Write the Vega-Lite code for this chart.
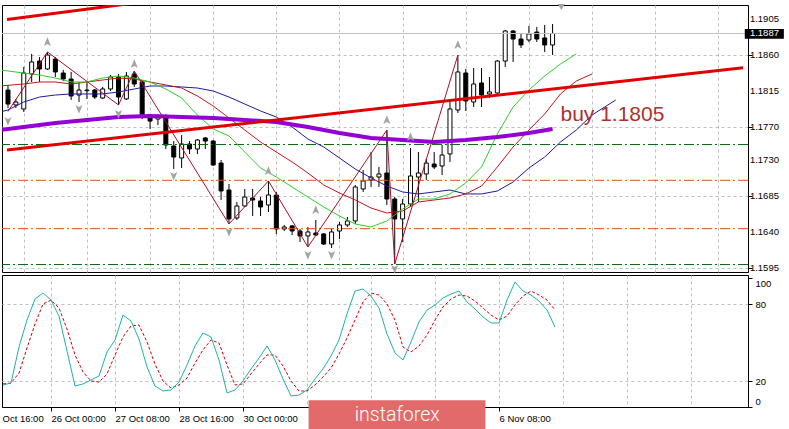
{
  "$schema": "https://vega.github.io/schema/vega-lite/v6.json",
  "padding": {"left": 0, "top": 3, "right": 0, "bottom": 0},
  "background": "#ffffff",
  "spacing": 3,
  "bounds": "flush",
  "config": {
    "view": {"stroke": "#000000", "strokeWidth": 1},
    "axis": {"labelFont": "Liberation Sans", "labelFontSize": 9.5, "labelColor": "#000000", "domainColor": "#000000", "tickColor": "#000000", "gridColor": "#c0c0c0", "gridDash": [3, 3], "gridWidth": 1, "title": null}
  },
  "datasets": {
    "candles": [
      {"i":0,"o":1.18166,"h":1.18229,"l":1.17942,"c":1.17992},
      {"i":1,"o":1.17980,"h":1.18055,"l":1.17942,"c":1.18017},
      {"i":2,"o":1.17930,"h":1.18453,"l":1.17893,"c":1.18378},
      {"i":3,"o":1.18366,"h":1.18615,"l":1.18266,"c":1.18515},
      {"i":4,"o":1.18527,"h":1.18577,"l":1.18266,"c":1.18428},
      {"i":5,"o":1.18428,"h":1.18640,"l":1.18416,"c":1.18602},
      {"i":6,"o":1.18552,"h":1.18577,"l":1.18328,"c":1.18391},
      {"i":7,"o":1.18378,"h":1.18416,"l":1.18278,"c":1.18303},
      {"i":8,"o":1.18303,"h":1.18391,"l":1.18042,"c":1.18092},
      {"i":9,"o":1.18104,"h":1.18266,"l":1.18017,"c":1.18166},
      {"i":10,"o":1.18158,"h":1.18266,"l":1.18055,"c":1.18166},
      {"i":11,"o":1.18166,"h":1.18179,"l":1.18055,"c":1.18079},
      {"i":12,"o":1.18067,"h":1.18204,"l":1.18055,"c":1.18179},
      {"i":13,"o":1.18179,"h":1.18353,"l":1.18154,"c":1.18328},
      {"i":14,"o":1.18328,"h":1.18366,"l":1.17980,"c":1.18079},
      {"i":15,"o":1.18055,"h":1.18391,"l":1.18042,"c":1.18341},
      {"i":16,"o":1.18366,"h":1.18403,"l":1.18204,"c":1.18241},
      {"i":17,"o":1.18266,"h":1.18291,"l":1.17805,"c":1.17843},
      {"i":18,"o":1.17855,"h":1.17868,"l":1.17681,"c":1.17780},
      {"i":19,"o":1.17805,"h":1.17868,"l":1.17731,"c":1.17843},
      {"i":20,"o":1.17843,"h":1.17868,"l":1.17432,"c":1.17482},
      {"i":21,"o":1.17469,"h":1.17531,"l":1.17183,"c":1.17332},
      {"i":22,"o":1.17320,"h":1.17606,"l":1.17195,"c":1.17494},
      {"i":23,"o":1.17494,"h":1.17531,"l":1.17370,"c":1.17432},
      {"i":24,"o":1.17432,"h":1.17556,"l":1.17370,"c":1.17544},
      {"i":25,"o":1.17569,"h":1.17581,"l":1.17432,"c":1.17531},
      {"i":26,"o":1.17531,"h":1.17544,"l":1.17220,"c":1.17233},
      {"i":27,"o":1.17257,"h":1.17295,"l":1.16797,"c":1.16909},
      {"i":28,"o":1.16921,"h":1.16996,"l":1.16498,"c":1.16561},
      {"i":29,"o":1.16573,"h":1.16772,"l":1.16548,"c":1.16722},
      {"i":30,"o":1.16722,"h":1.16934,"l":1.16710,"c":1.16834},
      {"i":31,"o":1.16822,"h":1.16934,"l":1.16598,"c":1.16797},
      {"i":32,"o":1.16785,"h":1.16834,"l":1.16598,"c":1.16710},
      {"i":33,"o":1.16735,"h":1.17034,"l":1.16648,"c":1.16859},
      {"i":34,"o":1.16859,"h":1.16897,"l":1.16374,"c":1.16436},
      {"i":35,"o":1.16436,"h":1.16486,"l":1.16411,"c":1.16461},
      {"i":36,"o":1.16474,"h":1.16486,"l":1.16361,"c":1.16411},
      {"i":37,"o":1.16411,"h":1.16436,"l":1.16274,"c":1.16349},
      {"i":38,"o":1.16349,"h":1.16461,"l":1.16212,"c":1.16399},
      {"i":39,"o":1.16386,"h":1.16548,"l":1.16349,"c":1.16361},
      {"i":40,"o":1.16374,"h":1.16386,"l":1.16237,"c":1.16249},
      {"i":41,"o":1.16249,"h":1.16436,"l":1.16199,"c":1.16399},
      {"i":42,"o":1.16411,"h":1.16523,"l":1.16311,"c":1.16486},
      {"i":43,"o":1.16486,"h":1.16585,"l":1.16461,"c":1.16536},
      {"i":44,"o":1.16536,"h":1.16984,"l":1.16498,"c":1.16959},
      {"i":45,"o":1.16934,"h":1.17170,"l":1.16897,"c":1.17034},
      {"i":46,"o":1.17046,"h":1.17394,"l":1.16959,"c":1.17083},
      {"i":47,"o":1.17083,"h":1.17208,"l":1.16959,"c":1.17121},
      {"i":48,"o":1.17133,"h":1.17668,"l":1.16735,"c":1.16809},
      {"i":49,"o":1.16809,"h":1.16834,"l":1.16000,"c":1.16561},
      {"i":50,"o":1.16561,"h":1.16809,"l":1.16274,"c":1.16747},
      {"i":51,"o":1.16747,"h":1.17444,"l":1.16710,"c":1.17096},
      {"i":52,"o":1.17083,"h":1.17394,"l":1.16772,"c":1.17133},
      {"i":53,"o":1.17121,"h":1.17307,"l":1.17046,"c":1.17257},
      {"i":54,"o":1.17245,"h":1.17394,"l":1.17183,"c":1.17208},
      {"i":55,"o":1.17220,"h":1.17482,"l":1.17108,"c":1.17357},
      {"i":56,"o":1.17370,"h":1.18017,"l":1.17270,"c":1.17930},
      {"i":57,"o":1.17917,"h":1.18602,"l":1.17880,"c":1.18391},
      {"i":58,"o":1.18378,"h":1.18428,"l":1.17905,"c":1.18030},
      {"i":59,"o":1.18017,"h":1.18440,"l":1.17955,"c":1.18241},
      {"i":60,"o":1.18254,"h":1.18440,"l":1.17955,"c":1.18104},
      {"i":61,"o":1.18117,"h":1.18328,"l":1.18067,"c":1.18142},
      {"i":62,"o":1.18129,"h":1.18540,"l":1.18117,"c":1.18527},
      {"i":63,"o":1.18527,"h":1.18913,"l":1.18453,"c":1.18901},
      {"i":64,"o":1.18901,"h":1.18913,"l":1.18515,"c":1.18801},
      {"i":65,"o":1.18801,"h":1.18864,"l":1.18689,"c":1.18727},
      {"i":66,"o":1.18789,"h":1.18963,"l":1.18764,"c":1.18864},
      {"i":67,"o":1.18888,"h":1.18951,"l":1.18764,"c":1.18801},
      {"i":68,"o":1.18814,"h":1.18976,"l":1.18640,"c":1.18727},
      {"i":69,"o":1.18727,"h":1.18988,"l":1.18602,"c":1.18870}
    ],
    "lips": [
      {"i":-1,"p":1.18416},{"i":0,"p":1.18403},{"i":2,"p":1.18378},{"i":4,"p":1.18353},{"i":6,"p":1.18316},{"i":8,"p":1.18266},{"i":10,"p":1.18266},{"i":12,"p":1.18316},{"i":14,"p":1.18341},{"i":16,"p":1.18316},{"i":18,"p":1.18266},{"i":20,"p":1.18179},{"i":22,"p":1.18067},{"i":24,"p":1.17855},{"i":26,"p":1.17681},{"i":28,"p":1.17594},{"i":30,"p":1.17394},{"i":32,"p":1.17195},{"i":34,"p":1.17083},{"i":36,"p":1.16959},{"i":38,"p":1.16834},{"i":40,"p":1.16710},{"i":42,"p":1.16598},{"i":44,"p":1.16498},{"i":46,"p":1.16461},{"i":48,"p":1.16536},{"i":50,"p":1.16685},{"i":52,"p":1.16809},{"i":54,"p":1.16809},{"i":56,"p":1.16872},{"i":58,"p":1.17009},{"i":60,"p":1.17208},{"i":62,"p":1.17619},{"i":64,"p":1.17955},{"i":66,"p":1.18166},{"i":68,"p":1.18341},{"i":70,"p":1.18490},{"i":72,"p":1.18615}
    ],
    "teeth": [
      {"i":-1,"p":1.18216},{"i":2,"p":1.18241},{"i":4,"p":1.18266},{"i":6,"p":1.18266},{"i":8,"p":1.18241},{"i":10,"p":1.18266},{"i":12,"p":1.18291},{"i":14,"p":1.18316},{"i":16,"p":1.18303},{"i":18,"p":1.18266},{"i":20,"p":1.18229},{"i":22,"p":1.18191},{"i":24,"p":1.18092},{"i":26,"p":1.17967},{"i":28,"p":1.17818},{"i":30,"p":1.17668},{"i":32,"p":1.17519},{"i":34,"p":1.17394},{"i":36,"p":1.17270},{"i":38,"p":1.17133},{"i":40,"p":1.16984},{"i":42,"p":1.16884},{"i":44,"p":1.16797},{"i":46,"p":1.16697},{"i":48,"p":1.16635},{"i":50,"p":1.16660},{"i":52,"p":1.16772},{"i":54,"p":1.16797},{"i":56,"p":1.16822},{"i":58,"p":1.16872},{"i":60,"p":1.16971},{"i":62,"p":1.17208},{"i":64,"p":1.17457},{"i":66,"p":1.17668},{"i":68,"p":1.17868},{"i":70,"p":1.18117},{"i":72,"p":1.18278},{"i":74,"p":1.18366}
    ],
    "jaw": [
      {"i":-1,"p":1.17893},{"i":0,"p":1.17917},{"i":2,"p":1.18017},{"i":4,"p":1.18079},{"i":6,"p":1.18104},{"i":8,"p":1.18117},{"i":10,"p":1.18117},{"i":12,"p":1.18117},{"i":14,"p":1.18142},{"i":16,"p":1.18179},{"i":18,"p":1.18216},{"i":20,"p":1.18216},{"i":22,"p":1.18204},{"i":24,"p":1.18191},{"i":26,"p":1.18154},{"i":28,"p":1.18079},{"i":30,"p":1.17992},{"i":32,"p":1.17905},{"i":34,"p":1.17830},{"i":36,"p":1.17706},{"i":38,"p":1.17556},{"i":40,"p":1.17457},{"i":42,"p":1.17320},{"i":44,"p":1.17183},{"i":46,"p":1.17071},{"i":48,"p":1.16971},{"i":50,"p":1.16897},{"i":52,"p":1.16872},{"i":54,"p":1.16897},{"i":56,"p":1.16921},{"i":58,"p":1.16872},{"i":60,"p":1.16872},{"i":62,"p":1.16909},{"i":64,"p":1.17021},{"i":66,"p":1.17195},{"i":68,"p":1.17332},{"i":70,"p":1.17519},{"i":72,"p":1.17668},{"i":74,"p":1.17855},{"i":76,"p":1.17980},{"i":77,"p":1.18042}
    ],
    "slow": [
      {"i":-1,"p":1.17668},{"i":2,"p":1.17706},{"i":6,"p":1.17756},{"i":10,"p":1.17793},{"i":14,"p":1.17830},{"i":18,"p":1.17843},{"i":22,"p":1.17830},{"i":26,"p":1.17818},{"i":30,"p":1.17793},{"i":34,"p":1.17768},{"i":38,"p":1.17706},{"i":42,"p":1.17631},{"i":46,"p":1.17569},{"i":50,"p":1.17544},{"i":54,"p":1.17519},{"i":58,"p":1.17544},{"i":62,"p":1.17581},{"i":66,"p":1.17631},{"i":69,"p":1.17681}
    ],
    "zigzag": [
      {"i":0,"p":1.17900},{"i":5,"p":1.18640},{"i":14,"p":1.17980},{"i":16,"p":1.18403},{"i":28,"p":1.16498},{"i":33,"p":1.17034},{"i":38,"p":1.16212},{"i":48,"p":1.17668},{"i":49,"p":1.16000},{"i":57,"p":1.18602}
    ],
    "fractals": [
      {"i":5,"p":1.18764,"dir":"up"},{"i":16,"p":1.18490,"dir":"up"},{"i":33,"p":1.17158,"dir":"up"},{"i":39,"p":1.16672,"dir":"up"},{"i":48,"p":1.17793,"dir":"up"},{"i":51,"p":1.17581,"dir":"up"},{"i":57,"p":1.18727,"dir":"up"},
      {"i":0,"p":1.17780,"dir":"down"},{"i":9,"p":1.17930,"dir":"down"},{"i":14,"p":1.17868,"dir":"down"},{"i":21,"p":1.17096,"dir":"down"},{"i":28,"p":1.16399,"dir":"down"},{"i":38,"p":1.16112,"dir":"down"},{"i":41,"p":1.16112,"dir":"down"},{"i":49,"p":1.15938,"dir":"down"}
    ],
    "levels": [
      {"p":1.17488,"kind":"green"},{"p":1.17042,"kind":"red"},{"p":1.16440,"kind":"red"},{"p":1.15994,"kind":"green"}
    ],
    "trend": [
      {"line":"top","i":-0.125,"p":1.19044},{"line":"top","i":20,"p":1.19300},
      {"line":"main","i":-0.125,"p":1.17418},{"line":"main","i":93.125,"p":1.18443}
    ],
    "priceTicks": [
      {"v":1.1595},{"v":1.1640},{"v":1.1685},{"v":1.1730},{"v":1.1770},{"v":1.1815},{"v":1.1860},{"v":1.1905}
    ],
    "last": [{"p":1.1887}],
    "note": [{"i":70,"p":1.17777,"label":"buy 1.1805"}],
    "stoch": [
      {"i":0,"k":16.9,"d":17.7},{"i":1,"k":18.4,"d":18.4},{"i":2,"k":46.5,"d":26.2},{"i":3,"k":67.5,"d":45.7},{"i":4,"k":83.9,"d":64.4},{"i":5,"k":88.6,"d":80.0},{"i":6,"k":83.1,"d":83.1},{"i":7,"k":70.6,"d":76.9},{"i":8,"k":43.4,"d":60.5},{"i":9,"k":16.1,"d":40.3},
      {"i":10,"k":17.7,"d":27.0},{"i":11,"k":20.8,"d":20.0},{"i":12,"k":23.9,"d":19.2},{"i":13,"k":42.6,"d":25.5},{"i":14,"k":52.0,"d":40.3},{"i":15,"k":71.4,"d":54.3},{"i":16,"k":66.8,"d":62.9},{"i":17,"k":52.7,"d":63.6},{"i":18,"k":30.9,"d":50.4},{"i":19,"k":16.1,"d":33.2},
      {"i":20,"k":12.2,"d":20.0},{"i":21,"k":13.0,"d":14.5},{"i":22,"k":19.2,"d":16.9},{"i":23,"k":32.5,"d":22.3},{"i":24,"k":47.3,"d":34.0},{"i":25,"k":57.4,"d":44.2},{"i":26,"k":54.3,"d":52.0},{"i":27,"k":36.4,"d":49.6},{"i":28,"k":10.7,"d":32.5},{"i":29,"k":13.0,"d":16.9},
      {"i":30,"k":20.0,"d":17.7},{"i":31,"k":29.4,"d":25.5},{"i":32,"k":37.9,"d":33.2},{"i":33,"k":47.3,"d":40.3},{"i":34,"k":36.4,"d":40.3},{"i":35,"k":21.6,"d":31.7},{"i":36,"k":8.3,"d":20.0},{"i":37,"k":9.1,"d":12.2},{"i":38,"k":13.0,"d":12.2},{"i":39,"k":21.6,"d":16.9},
      {"i":40,"k":29.4,"d":23.1},{"i":41,"k":39.5,"d":30.1},{"i":42,"k":52.0,"d":41.0},{"i":43,"k":72.2,"d":53.5},{"i":44,"k":90.1,"d":67.5},{"i":45,"k":91.7,"d":81.6},{"i":46,"k":86.2,"d":88.6},{"i":47,"k":76.9,"d":87.0},{"i":48,"k":56.6,"d":80.0},{"i":49,"k":41.8,"d":67.5},
      {"i":50,"k":36.4,"d":46.5},{"i":51,"k":50.4,"d":42.6},{"i":52,"k":66.0,"d":47.3},{"i":53,"k":75.3,"d":55.8},{"i":54,"k":79.2,"d":67.5},{"i":55,"k":84.7,"d":77.7},{"i":56,"k":87.8,"d":83.9},{"i":57,"k":90.1,"d":87.0},{"i":58,"k":81.6,"d":86.2},{"i":59,"k":76.1,"d":82.3},
      {"i":60,"k":69.9,"d":76.9},{"i":61,"k":65.2,"d":71.4},{"i":62,"k":65.2,"d":67.5},{"i":63,"k":83.1,"d":70.6},{"i":64,"k":97.1,"d":79.2},{"i":65,"k":90.1,"d":86.2},{"i":66,"k":87.0,"d":90.1},{"i":67,"k":82.3,"d":87.0},{"i":68,"k":75.3,"d":83.1},{"i":69,"k":62.1,"d":75.3}
    ]
  },
  "vconcat": [
    {
      "width": 746,
      "height": 267,
      "layer": [
        {
          "data": {"name": "candles"},
          "mark": {"type": "rule", "color": "#000000", "strokeWidth": 1},
          "encoding": {
            "x": {"field": "i", "type": "quantitative", "scale": {"domain": [-0.125, 93.125], "nice": false, "zero": false},
                  "axis": {"orient": "bottom", "values": [2,6,10,14,18,22,26,30,34,38,42,46,50,54,58,62,66,70,74,78,82,86,90], "labels": false, "ticks": false, "domain": false, "grid": true, "minExtent": 0, "maxExtent": 0, "offset": 0}},
            "y": {"field": "l", "type": "quantitative", "scale": {"domain": [1.159005, 1.192246], "nice": false, "zero": false},
                  "axis": {"orient": "right", "values": [1.1595, 1.1640, 1.1685, 1.1730, 1.1770, 1.1815, 1.1860, 1.1905], "labels": false, "tickSize": 4, "grid": true, "domain": true}},
            "y2": {"field": "h"}
          }
        },
        {
          "data": {"name": "candles"},
          "mark": {"type": "bar", "size": 4, "stroke": "#000000", "strokeWidth": 1},
          "encoding": {
            "x": {"field": "i", "type": "quantitative"},
            "y": {"field": "o", "type": "quantitative"},
            "y2": {"field": "c"},
            "fill": {"condition": {"test": "datum.c >= datum.o", "value": "#ffffff"}, "value": "#000000"}
          }
        },
        {
          "data": {"name": "levels"},
          "mark": {"type": "rule", "strokeWidth": 1, "strokeDash": [10, 3, 2, 3]},
          "encoding": {
            "y": {"field": "p", "type": "quantitative"},
            "color": {"field": "kind", "type": "nominal", "scale": {"domain": ["green", "red"], "range": ["#0b6b0b", "#e0501a"]}, "legend": null}
          }
        },
        {
          "data": {"name": "last"},
          "mark": {"type": "rule", "color": "#c0c0c0", "strokeWidth": 1},
          "encoding": {"y": {"field": "p", "type": "quantitative"}}
        },
        {
          "data": {"name": "jaw"},
          "mark": {"type": "line", "color": "#1c1c9c", "strokeWidth": 1, "clip": true},
          "encoding": {"x": {"field": "i", "type": "quantitative"}, "y": {"field": "p", "type": "quantitative"}}
        },
        {
          "data": {"name": "teeth"},
          "mark": {"type": "line", "color": "#c01818", "strokeWidth": 1, "clip": true},
          "encoding": {"x": {"field": "i", "type": "quantitative"}, "y": {"field": "p", "type": "quantitative"}}
        },
        {
          "data": {"name": "lips"},
          "mark": {"type": "line", "color": "#2ecc2e", "strokeWidth": 1, "clip": true},
          "encoding": {"x": {"field": "i", "type": "quantitative"}, "y": {"field": "p", "type": "quantitative"}}
        },
        {
          "data": {"name": "slow"},
          "mark": {"type": "line", "color": "#9400d3", "strokeWidth": 4, "clip": true},
          "encoding": {"x": {"field": "i", "type": "quantitative"}, "y": {"field": "p", "type": "quantitative"}}
        },
        {
          "data": {"name": "trend"},
          "mark": {"type": "line", "color": "#e00000", "strokeWidth": 3, "clip": true},
          "encoding": {"x": {"field": "i", "type": "quantitative"}, "y": {"field": "p", "type": "quantitative"}, "detail": {"field": "line", "type": "nominal"}}
        },
        {
          "data": {"name": "zigzag"},
          "mark": {"type": "line", "color": "#a8102c", "strokeWidth": 1, "clip": true},
          "encoding": {"x": {"field": "i", "type": "quantitative"}, "y": {"field": "p", "type": "quantitative"}}
        },
        {
          "data": {"name": "fractals"},
          "mark": {"type": "point", "filled": true, "size": 90, "color": "#a4a4a4", "opacity": 1},
          "encoding": {
            "x": {"field": "i", "type": "quantitative"},
            "y": {"field": "p", "type": "quantitative"},
            "shape": {"field": "dir", "type": "nominal", "scale": {"domain": ["up", "down"], "range": ["M0,-1L0.75,0.85L0,0.4L-0.75,0.85Z", "M0,1L0.75,-0.85L0,-0.4L-0.75,-0.85Z"]}, "legend": null}
          }
        },
        {
          "data": {"values": [{}]},
          "mark": {"type": "point", "filled": true, "size": 50, "color": "#a4a4a4", "opacity": 1, "shape": "triangle-down"},
          "encoding": {"x": {"datum": 70.1}, "y": {"datum": 1.1920}}
        },
        {
          "data": {"name": "note"},
          "mark": {"type": "text", "align": "left", "baseline": "alphabetic", "font": "Liberation Sans", "fontSize": 21, "color": "#ac3030"},
          "encoding": {"x": {"field": "i", "type": "quantitative"}, "y": {"field": "p", "type": "quantitative"}, "text": {"field": "label", "type": "nominal"}}
        },
        {
          "data": {"name": "priceTicks"},
          "mark": {"type": "text", "align": "left", "baseline": "middle", "font": "Liberation Sans", "fontSize": 9.5, "color": "#000000"},
          "encoding": {"x": {"datum": 94.0}, "y": {"field": "v", "type": "quantitative"}, "text": {"field": "v", "type": "quantitative", "format": ".4f"}}
        },
        {
          "data": {"values": [{}]},
          "mark": {"type": "rect", "color": "#000000"},
          "encoding": {"x": {"datum": 93.35}, "x2": {"datum": 98.3}, "y": {"datum": 1.18925}, "y2": {"datum": 1.18805}}
        },
        {
          "data": {"name": "last"},
          "mark": {"type": "text", "align": "left", "baseline": "middle", "font": "Liberation Sans", "fontSize": 9.5, "color": "#ffffff"},
          "encoding": {"x": {"datum": 94.0}, "y": {"field": "p", "type": "quantitative"}, "text": {"field": "p", "type": "quantitative", "format": ".4f"}}
        }
      ]
    },
    {
      "width": 746,
      "height": 132,
      "layer": [
        {
          "data": {"name": "stoch"},
          "mark": {"type": "line", "color": "#d00000", "strokeWidth": 1, "strokeDash": [3, 2]},
          "encoding": {
            "x": {"field": "i", "type": "quantitative", "scale": {"domain": [-0.125, 93.125], "nice": false, "zero": false},
                  "axis": {"orient": "bottom",
                           "values": [-0.125,2,6,10,14,18,22,26,30,34,38,42,46,50,54,58,62,66,70,74,78,82,86,90],
                           "labelExpr": "datum.value == 6 ? '26 Oct 00:00' : datum.value == 14 ? '27 Oct 08:00' : datum.value == 22 ? '28 Oct 16:00' : datum.value == 30 ? '30 Oct 00:00' : datum.value == 62 ? '6 Nov 08:00' : datum.value < 0 ? 'Oct 16:00' : ''",
                           "labelAlign": "left", "labelBaseline": "top", "tickSize": 4, "labelPadding": 2,
                           "labelOverlap": false, "labelBound": false, "labelFlush": false,
                           "tickOpacity": {"condition": {"test": "indexof([6,14,22,30,62], datum.value) >= 0", "value": 1}, "value": 0},
                           "grid": true,
                           "gridOpacity": {"condition": {"test": "datum.value < 0", "value": 0}, "value": 1},
                           "domain": true}},
            "y": {"field": "d", "type": "quantitative", "scale": {"domain": [-0.26, 102.6], "nice": false, "zero": false},
                  "axis": {"orient": "right", "values": [0, 20, 80, 100], "tickSize": 4, "labelPadding": 3, "labelAlign": "left",
                           "labelOverlap": false, "labelBound": false, "labelFlush": false,
                           "grid": true,
                           "gridOpacity": {"condition": {"test": "datum.value == 20 || datum.value == 80", "value": 1}, "value": 0},
                           "labelBaseline": {"condition": [{"test": "datum.value == 100", "value": "top"}, {"test": "datum.value == 0", "value": "bottom"}], "value": "middle"}}}
          }
        },
        {
          "data": {"name": "stoch"},
          "mark": {"type": "line", "color": "#20b2aa", "strokeWidth": 1},
          "encoding": {"x": {"field": "i", "type": "quantitative"}, "y": {"field": "k", "type": "quantitative"}}
        },
        {
          "data": {"values": [{}]},
          "mark": {"type": "rect", "color": "#e36a6a"},
          "encoding": {"x": {"datum": 38.2}, "x2": {"datum": 60.3}, "y": {"datum": 5.0}, "y2": {"datum": -19.0}}
        },
        {
          "data": {"values": [{"label": "instaforex"}]},
          "mark": {"type": "text", "align": "left", "baseline": "alphabetic", "font": "Roboto", "fontWeight": 300, "fontSize": 19.5, "color": "#ffffff"},
          "encoding": {"x": {"datum": 43.96}, "y": {"datum": -11.0}, "text": {"field": "label", "type": "nominal"}}
        }
      ]
    }
  ]
}
